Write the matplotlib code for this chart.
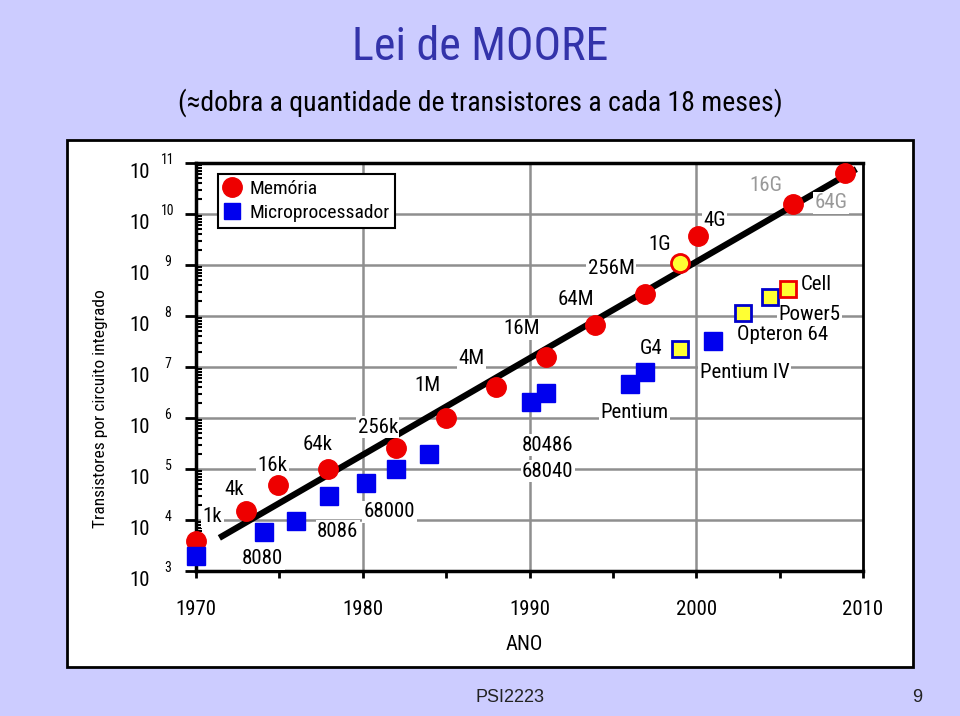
import matplotlib

matplotlib.use("Agg")
import matplotlib.pyplot as plt
from matplotlib.lines import Line2D
from matplotlib.patches import Rectangle

# --- dados (ano, log10 do numero de transistores) ---
mem_year = [1970.0, 1973.0, 1974.9, 1977.9, 1982.0, 1985.0, 1988.0, 1991.0,
            1993.9, 1996.9, 2000.1, 2005.8, 2008.9]
mem_log = [3.59, 4.18, 4.69, 5.00, 5.41, 6.00, 6.61, 7.20, 7.82, 8.43, 9.57,
           10.2, 10.8]
mem1g_year = [1999.0]
mem1g_log = [9.04]

cpu_year = [1970.0, 1974.1, 1976.0, 1978.0, 1980.2, 1982.0, 1984.0, 1990.1,
            1991.0, 1996.0, 1996.9, 2001.0]
cpu_log = [3.29, 3.77, 3.98, 4.48, 4.73, 5.00, 5.29, 6.31, 6.49, 6.67, 6.90,
           7.51]
cpu_new_year = [1999.0, 2002.8, 2004.4]   # G4, Opteron 64, Power5
cpu_new_log = [7.35, 8.06, 8.37]
cell_year = [2005.5]
cell_log = [8.53]

trend_year = [1971.4, 2009.6]
trend_log = [3.65, 10.88]

mem_labels = ["1k", "4k", "16k", "64k", "256k", "1M", "4M", "16M", "64M",
              "256M", "1G", "4G"]
mem_label_at = [(1971.0, 4.06), (1972.3, 4.59), (1974.6, 5.06), (1977.3, 5.49),
                (1980.9, 5.82), (1983.9, 6.63), (1986.5, 7.16), (1989.5, 7.75),
                (1992.8, 8.33), (1994.9, 8.94), (1997.8, 9.41), (2001.1, 9.88)]
future_labels = ["16G", "64G"]
future_label_at = [(2004.2, 10.55), (2008.1, 10.22)]
cpu_labels = ["8080", "8086", "68000", "80486", "68040", "Pentium", "G4",
              "Pentium IV", "Opteron 64", "Power5", "Cell"]
cpu_label_at = [(1974.0, 3.24), (1978.5, 3.78), (1981.6, 4.16), (1991.1, 5.47),
                (1991.1, 4.96), (1996.3, 6.10), (1997.3, 7.37), (2002.9, 6.90),
                (2005.2, 7.63), (2006.8, 8.02), (2007.2, 8.61)]

decades = list(range(3, 12))
year_ticks = list(range(1970, 2011, 5))
year_labels = [1970, 1980, 1990, 2000, 2010]

BG = "#ccccff"
FONT = ["Roboto Condensed", "DejaVu Sans"]
plt.rcParams["font.family"] = FONT

fig = plt.figure(figsize=(9.6, 7.16), dpi=100)
fig.patch.set_facecolor(BG)


def fx(px):
    return px / 960


def fy(py):
    return 1 - py / 716


# painel branco atras do grafico
fig.patches.append(Rectangle((fx(67), fy(667)), fx(913) - fx(67), fy(140) - fy(667),
                             transform=fig.transFigure, fc="white", ec="black",
                             lw=2, zorder=-1))

fig.text(fx(480), fy(47), "Lei de MOORE", ha="center", va="center",
         fontsize=33, color="#3333aa")
fig.text(fx(480), fy(103), "(\u2248dobra a quantidade de transistores a cada 18 meses)",
         ha="center", va="center", fontsize=20, color="black")

ax = fig.add_axes([fx(196), fy(571), fx(863) - fx(196), fy(163) - fy(571)])
ax.set_yscale("log")
ax.set_xlim(1970, 2010)
ax.set_ylim(1e3, 1e11)
ax.set_facecolor("white")

for d in decades[1:-1]:
    ax.axhline(10.0 ** d, color="#8f8f8f", lw=1.8, zorder=1)
for yr in (1980, 1990, 2000):
    ax.axvline(yr, color="#8f8f8f", lw=1.8, zorder=1)

ax.plot(trend_year, [10.0 ** v for v in trend_log], color="black", lw=4.5,
        solid_capstyle="butt", zorder=3)

ax.plot(mem_year, [10.0 ** v for v in mem_log], "o", ms=14, color="#ee0000",
        mec="#ee0000", zorder=5, clip_on=False)
ax.plot(mem1g_year, [10.0 ** v for v in mem1g_log], "o", ms=13, mfc="#ffff33",
        mec="#ee0000", mew=2, zorder=5, clip_on=False)
ax.plot(cpu_year, [10.0 ** v for v in cpu_log], "s", ms=13, color="#0000ee",
        zorder=5, clip_on=False)
ax.plot(cpu_new_year, [10.0 ** v for v in cpu_new_log], "s", ms=12,
        mfc="#ffff33", mec="#0000cc", mew=2, zorder=5, clip_on=False)
ax.plot(cell_year, [10.0 ** v for v in cell_log], "s", ms=12, mfc="#ffff33",
        mec="#ee0000", mew=2, zorder=5, clip_on=False)

box = dict(fc="white", ec="none", pad=1)
for txt, (x, y) in zip(mem_labels + cpu_labels, mem_label_at + cpu_label_at):
    ax.text(x, 10.0 ** y, txt, ha="center", va="center", fontsize=15,
            bbox=box, zorder=4)
for txt, (x, y) in zip(future_labels, future_label_at):
    ax.text(x, 10.0 ** y, txt, ha="center", va="center", fontsize=15,
            color="#999999", bbox=box, zorder=4, clip_on=False)

# eixos
for side in ("left", "bottom", "top"):
    ax.spines[side].set_linewidth(2.5)
ax.spines["right"].set_linewidth(2)
ax.set_xticks(year_ticks)
ax.set_xticklabels([])
ax.tick_params(axis="x", direction="out", length=5, width=2)
ax.set_yticks([10.0 ** d for d in decades])
ax.set_yticklabels([])
ax.tick_params(axis="y", which="major", direction="out", length=8, width=2)
ax.tick_params(axis="y", which="minor", direction="in", length=4, width=1.5)

ytr = ax.get_yaxis_transform()
for d in decades:
    ax.text(-0.084, 10.0 ** (d - 0.18), "10", transform=ytr, ha="center",
            va="center", fontsize=15)
    ax.text(-0.042, 10.0 ** (d + 0.06), str(d), transform=ytr, ha="center",
            va="center", fontsize=10)

xtr = ax.get_xaxis_transform()
for yr in year_labels:
    ax.text(yr, -0.095, str(yr), transform=xtr, ha="center", va="center",
            fontsize=15)

fig.text(fx(524), fy(645), "ANO", ha="center", va="center", fontsize=15)
fig.text(fx(100), fy(409), "Transistores por circuito integrado", rotation=90,
         ha="center", va="center", fontsize=12.5)

handles = [Line2D([], [], ls="none", marker="o", ms=14, color="#ee0000"),
           Line2D([], [], ls="none", marker="s", ms=12, color="#0000ee")]
leg = ax.legend(handles, ["Memória", "Microprocessador"], loc="upper left",
                bbox_to_anchor=(0.033, 0.973), borderaxespad=0, fontsize=14,
                frameon=True, fancybox=False, framealpha=1, edgecolor="black",
                handlelength=0.8, handletextpad=0.5, borderpad=0.3,
                labelspacing=0.3)
leg.get_frame().set_linewidth(1.5)
leg.set_zorder(6)

fig.text(fx(510), fy(697), "PSI2223", ha="center", va="center", fontsize=13,
         family="Liberation Sans", color="#222222")
fig.text(fx(917), fy(697), "9", ha="center", va="center", fontsize=13,
         family="Liberation Sans", color="#222222")

fig.savefig("out.png", dpi=100, facecolor=BG)
